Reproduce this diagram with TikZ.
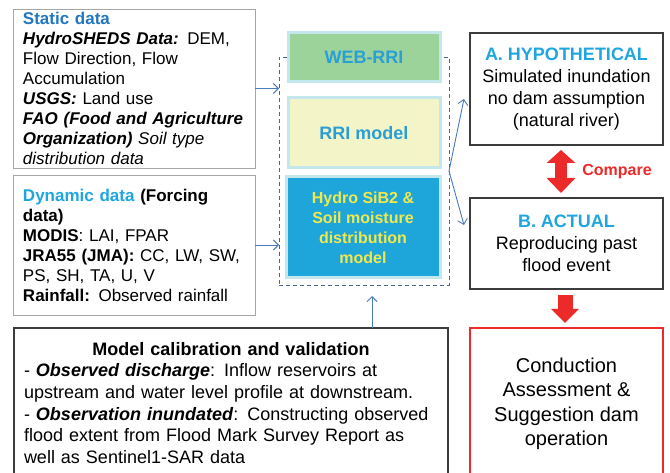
\documentclass[tikz,border=0pt]{standalone}
\usepackage{fontspec}
\setmainfont{Liberation Sans}
\usetikzlibrary{arrows.meta}
\definecolor{arrblue}{HTML}{4A7BBE}
\definecolor{dashblue}{HTML}{4A6590}
\definecolor{lightbd}{HTML}{C3E7EC}
\definecolor{webgreen}{HTML}{9CD39A}
\definecolor{rriyellow}{HTML}{F3F5C8}
\definecolor{hydroblue}{HTML}{1EA6DB}
\definecolor{txtblue}{HTML}{2A9FD6}
\definecolor{txtyellow}{HTML}{F1E84C}
\definecolor{headblue}{HTML}{2277C0}
\definecolor{headcyan}{HTML}{1FA6DE}
\definecolor{redc}{HTML}{EC2A2A}
\definecolor{graybd}{HTML}{A6A6A6}
\definecolor{darkbd}{HTML}{3C3C3C}
\tikzset{
  base/.style={rectangle, anchor=north west, outer sep=0pt, inner ysep=0pt},
  leftbox/.style={base, draw=graybd, line width=0.8pt, align=left, inner xsep=10pt,
    font=\fontsize{17}{20}\selectfont},
  modelbox/.style={base, draw=lightbd, line width=3pt, align=center,
    font=\fontsize{18}{20}\selectfont\bfseries},
  resbox/.style={base, draw=darkbd, line width=1.3pt, align=center,
    font=\fontsize{18}{22}\selectfont},
  arr/.style={draw=arrblue, line width=0.9pt, -{Straight Barb[length=5pt,width=10pt]}},
}
\begin{document}
\begin{tikzpicture}[x=1pt,y=-1pt]
\clip (0,0) rectangle (670,473);
\fill[white] (0,0) rectangle (670,473);

% left data boxes
\node[leftbox, minimum width=242, minimum height=159, text width=222] (static) at (13,9) {%
{\color{headblue}\textbf{Static data}}\\
\textbf{\textit{HydroSHEDS Data:}} DEM,\\
Flow Direction, Flow\\
Accumulation\\
\textbf{\textit{USGS:}} Land use\\
\textbf{\textit{FAO (Food and Agriculture}}\\
\textbf{\textit{Organization)}} \textit{Soil type}\\
\textit{distribution data}};

\node[leftbox, minimum width=242, minimum height=140, text width=222] (dyn) at (13,175) {%
{\color{headcyan}\textbf{Dynamic data}} \textbf{(Forcing}\\
\textbf{data)}\\
\textbf{MODIS}: LAI, FPAR\\
\textbf{JRA55 (JMA):} CC, LW, SW,\\
PS, SH, TA, U, V\\
\textbf{Rainfall:} Observed rainfall\\[6pt]};

% dashed model group
\node[base, draw=dashblue, line width=0.8pt, dash pattern=on 4pt off 3pt,
  minimum width=170, minimum height=228] (dash) at (279,57) {};

\node[modelbox, fill=webgreen, text=txtblue, minimum width=152, minimum height=49] (web) at (288,33) {WEB-RRI};
\node[modelbox, fill=rriyellow, text=txtblue, minimum width=152, minimum height=70] (rri) at (288,98) {RRI model};
\node[modelbox, fill=hydroblue, text=txtyellow, minimum width=154, minimum height=101,
  font=\fontsize{16}{20}\selectfont\bfseries] (hydro) at (286,177) {Hydro SiB2 \&\\Soil moisture\\distribution\\model};

% result boxes
\node[resbox, minimum width=193, minimum height=112] (hypo) at (470,33) {%
{\color{headcyan}\textbf{A. HYPOTHETICAL}}\\Simulated inundation\\no dam assumption\\(natural river)};
\node[resbox, minimum width=193, minimum height=91] (actual) at (470,198) {%
{\color{headcyan}\textbf{B. ACTUAL}}\\Reproducing past\\flood event};
\node[base, draw=redc, line width=2.5pt, align=center, minimum width=193, minimum height=152,
  font=\fontsize{20}{24.5}\selectfont] (conc) at (470,328) {Conduction\\Assessment \&\\Suggestion dam\\operation};

% calibration box
\node[base, draw=darkbd, line width=1.3pt, align=left, text width=414, inner xsep=10pt,
  minimum width=434, minimum height=150, font=\fontsize{18}{21.7}\selectfont] (calib) at (14,328) {%
\makebox[\linewidth][c]{\textbf{Model calibration and validation}}\\
- \textbf{\textit{Observed discharge}}: Inflow reservoirs at\\
upstream and water level profile at downstream.\\
- \textbf{\textit{Observation inundated}}: Constructing observed\\
flood extent from Flood Mark Survey Report as\\
well as Sentinel1-SAR data};

% blue connectors
\draw[arr] (static.east) -- (dash.west |- static.east);
\draw[arr] (dyn.east) -- (dash.west |- dyn.east);
\coordinate (ta) at (464,99);
\coordinate (tb) at (464,225);
\draw[arr] (dash.east) -- (ta);
\draw[arr] (dash.east) -- (tb);
\coordinate (up) at (372,296);
\draw[arr] (up |- calib.north) -- (up);

% red arrows
\coordinate (cmpx) at (561,0);
\draw[redc, line width=12pt, {Triangle[length=13pt,width=28pt]}-{Triangle[length=15pt,width=28pt]},
  shorten <=5pt, shorten >=5pt] (cmpx |- hypo.south) -- (cmpx |- actual.north);
\node[text=redc, font=\fontsize{16}{18}\selectfont\bfseries] (cmp) at (617,172) {Compare};
\coordinate (dnx) at (565,0);
\draw[redc, line width=15pt, -{Triangle[length=14pt,width=27pt]},
  shorten <=6pt, shorten >=5pt] (dnx |- actual.south) -- (dnx |- conc.north);
\end{tikzpicture}
\end{document}
